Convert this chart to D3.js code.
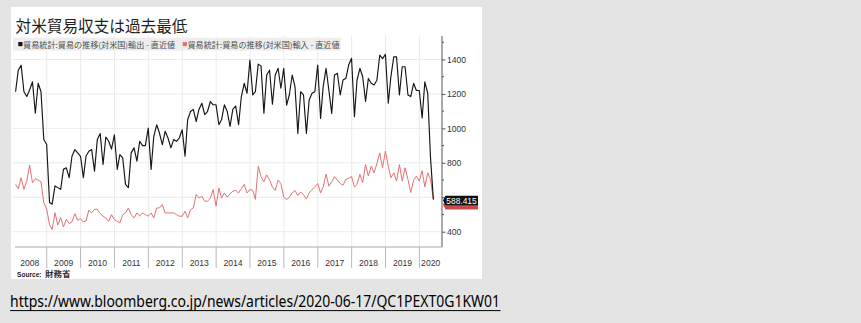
<!DOCTYPE html>
<html><head><meta charset="utf-8">
<script src="https://cdn.jsdelivr.net/npm/d3@7"></script>
<style>
html,body{margin:0;padding:0;background:#e4e4e4;}
svg{display:block;}
</style></head><body>
<svg id="c" width="861" height="323"></svg>
<script>
const titleText = "対米貿易収支は過去最低";
const seriesNames = ["貿易統計:貿易の推移(対米国)輸出 - 直近値", "貿易統計:貿易の推移(対米国)輸入 - 直近値"];
const seriesColors = ["#151515", "#e27272"];
const startYear = 2008;
// monthly values, Jan 2008 .. May 2020
const exportsValues = [
  1213, 1338, 1367, 1213, 1185, 1223, 1271, 1088, 1262, 1213, 935, 906,
  570, 560, 666, 656, 646, 762, 771, 714, 838, 877, 858, 838,
  714, 838, 867, 877, 752, 935, 970, 790, 950, 925, 880, 963,
  762, 848, 829, 675, 656, 858, 887, 810, 925, 900, 900, 1002,
  762, 954, 1021, 973, 906, 983, 944, 887, 935, 925, 944, 992,
  838, 1050, 1098, 1110, 1040, 1110, 1146, 1080, 1098, 1156, 1137, 1137,
  1021, 1050, 1137, 1100, 1012, 1110, 1130, 1021, 1185, 1262, 1204, 1396,
  1194, 1213, 1373, 1363, 1088, 1310, 1338, 1140, 1310, 1349, 1233, 1349,
  1135, 1194, 1310, 1243, 971, 1213, 1194, 971, 1165, 1204, 1213, 1368,
  1058, 1243, 1349, 1223, 1087, 1310, 1320, 1194, 1281, 1291, 1368, 1407,
  1068, 1281, 1349, 1300, 1156, 1290, 1262, 1252, 1280, 1425, 1405, 1430,
  1146, 1300, 1415, 1415, 1194, 1358, 1358, 1194, 1185, 1262, 1220, 1220,
  1060, 1270, 1204, 830, 588.415
];
const importsValues = [
  675, 650, 713, 646, 694, 787, 685, 708, 700, 690, 569, 531,
  440, 413, 510, 438, 482, 428, 472, 448, 458, 505, 466, 476,
  457, 462, 525, 510, 530, 530, 505, 490, 480, 460, 499, 470,
  460, 451, 499, 509, 538, 499, 480, 509, 490, 509, 499, 490,
  509, 480, 538, 538, 557, 509, 509, 509, 509, 499, 490, 490,
  519, 480, 528, 538, 616, 596, 606, 577, 577, 596, 645, 548,
  654, 595, 625, 600, 620, 635, 640, 625, 650, 675, 625, 645,
  640, 588, 780, 720, 690, 730, 700, 660, 640, 700, 680, 600,
  587, 600, 625, 640, 610, 630, 615, 590, 625, 645, 660, 680,
  625, 660, 735, 665, 690, 720, 700, 680, 670, 705, 710, 720,
  660, 675, 733, 685, 790, 723, 781, 742, 795, 858, 771, 868,
  781, 713, 742, 694, 790, 694, 771, 704, 627, 700, 723, 694,
  754, 660, 742, 704, 583
];
const yearLabels = ["2008","2009","2010","2011","2012","2013","2014","2015","2016","2017","2018","2019","2020"];
const yTicks = [400, 600, 800, 1000, 1200, 1400];
const yTickLabels = ["400", "", "800", "1000", "1200", "1400"]; // 600 is hidden behind the last-value tag
const yMinorTicks = [500, 700, 900, 1100, 1300, 1500];
const lastLabel = "588.415";
const sourceLabel = "Source:";
const sourceName = "財務省";
const urlText = "https://www.bloomberg.co.jp/news/articles/2020-06-17/QC1PEXT0G1KW01";

const svg = d3.select("#c");
const plot = {left: 12.8, right: 442, top: 36, bottom: 247};

const x = d3.scaleTime()
  .domain([new Date(2008, 0, 1), new Date(2020, 8, 1)])
  .range([plot.left, plot.right]);
const y = d3.scaleLinear().domain([311.2, 1536.5]).range([plot.bottom, plot.top]);

// month-end dates
const monthDate = i => new Date(startYear, i + 1, 0);

// panel
svg.append("rect").attr("x", 11).attr("y", 7).attr("width", 471).attr("height", 272).attr("fill", "#ffffff");

// grid
const years = d3.range(2009, 2021).map(yr => new Date(yr, 0, 1));
svg.append("g").selectAll("line").data(yTicks).join("line")
  .attr("x1", plot.left).attr("x2", plot.right)
  .attr("y1", d => y(d)).attr("y2", d => y(d))
  .attr("stroke", "#ebebeb").attr("stroke-width", 1);
svg.append("g").selectAll("line").data(years).join("line")
  .attr("x1", d => x(d)).attr("x2", d => x(d))
  .attr("y1", plot.top).attr("y2", plot.bottom)
  .attr("stroke", "#ebebeb").attr("stroke-width", 1);

// title
svg.append("text").attr("x", 15.5).attr("y", 32)
  .attr("font-family", "'Noto Sans CJK JP'").attr("font-size", 16).attr("fill", "#1e1e1e")
  .attr("textLength", 172).attr("lengthAdjust", "spacingAndGlyphs")
  .text(titleText);

// legend
svg.append("rect").attr("x", 13).attr("y", 37.7).attr("width", 328).attr("height", 13).attr("fill", "#eeeeee");
const legX = [18.3, 182.7];
seriesNames.forEach((n, i) => {
  svg.append("rect").attr("x", legX[i]).attr("y", 42).attr("width", 4.2).attr("height", 4.2).attr("fill", seriesColors[i]);
  svg.append("text").attr("x", legX[i] + 4.8).attr("y", 47.6)
    .attr("font-family", "'Noto Sans CJK JP'").attr("font-size", 7.6).attr("fill", "#4a4a4a")
    .attr("textLength", 152).attr("lengthAdjust", "spacingAndGlyphs")
    .text(n);
});

// x axis baseline + year dividers
svg.append("line").attr("x1", 15).attr("x2", plot.right).attr("y1", plot.bottom).attr("y2", plot.bottom)
  .attr("stroke", "#a8a8a8").attr("stroke-width", 1);
svg.append("g").selectAll("line").data(years).join("line")
  .attr("x1", d => x(d)).attr("x2", d => x(d))
  .attr("y1", plot.bottom).attr("y2", plot.bottom + 21)
  .attr("stroke", "#b8b8b8").attr("stroke-width", 1);
svg.append("g").selectAll("text").data(yearLabels).join("text")
  .attr("x", d => {
    const a = x(new Date(+d, 0, 1));
    const b = Math.min(x(new Date(+d + 1, 0, 1)), plot.right);
    return (a + b) / 2;
  })
  .attr("y", 266)
  .attr("text-anchor", "middle")
  .attr("font-family", "'Liberation Sans', Arial, sans-serif").attr("font-size", 8.6).attr("fill", "#333")
  .text(d => d);

// right y axis
const yAxis = d3.axisRight(y).tickValues(yTicks).tickSize(3.5).tickPadding(1.5)
  .tickFormat((d, i) => yTickLabels[i]);
const ga = svg.append("g").attr("transform", `translate(${plot.right},0)`).call(yAxis);
ga.select(".domain").attr("d", `M0,${plot.top}V${plot.bottom}`).attr("stroke", "#555");
ga.selectAll(".tick line").attr("stroke", "#555");
ga.selectAll(".tick text").attr("font-family", "'Liberation Sans', Arial, sans-serif").attr("font-size", 8.6).attr("fill", "#333");
svg.append("g").selectAll("line").data(yMinorTicks).join("line")
  .attr("x1", plot.right).attr("x2", plot.right + 2)
  .attr("y1", d => y(d)).attr("y2", d => y(d))
  .attr("stroke", "#555");

// lines
const line = d3.line().x((d, i) => x(monthDate(i))).y(d => y(d));
svg.append("path").datum(importsValues).attr("d", line)
  .attr("fill", "none").attr("stroke", seriesColors[1]).attr("stroke-width", 1).attr("stroke-linejoin", "round");
svg.append("path").datum(exportsValues).attr("d", line)
  .attr("fill", "none").attr("stroke", seriesColors[0]).attr("stroke-width", 1.15).attr("stroke-linejoin", "round");

// last value tags
function valueTag(v, color, dy) {
  const cy = y(v) + dy;
  const g = svg.append("g");
  g.append("path")
    .attr("d", `M${plot.right + 1},${cy} L${plot.right + 3.5},${cy - 4.8} H${plot.right + 36} V${cy + 4.8} H${plot.right + 3.5} Z`)
    .attr("fill", color);
  return {g, cy};
}
const lastImp = importsValues[importsValues.length - 1];
valueTag(lastImp, "#c84a4a", 4.5);
const lastExp = exportsValues[exportsValues.length - 1];
const tag = valueTag(lastExp, "#111", 1.3);
tag.g.append("text").attr("x", plot.right + 19.5).attr("y", tag.cy + 3)
  .attr("text-anchor", "middle").attr("fill", "#fff")
  .attr("font-family", "'Liberation Sans', Arial, sans-serif").attr("font-size", 8.4)
  .text(lastLabel);

// source
svg.append("text").attr("x", 17).attr("y", 276.5)
  .attr("font-family", "'Liberation Sans', Arial, sans-serif").attr("font-weight", "bold")
  .attr("font-size", 7).attr("fill", "#222")
  .attr("textLength", 24.5).attr("lengthAdjust", "spacingAndGlyphs")
  .text(sourceLabel);
svg.append("text").attr("x", 45).attr("y", 277)
  .attr("font-family", "'Noto Sans CJK JP'").attr("font-weight", "bold")
  .attr("font-size", 8.5).attr("fill", "#333")
  .text(sourceName);

// url
svg.append("text").attr("x", 10).attr("y", 307.3)
  .attr("font-family", "'Noto Sans', sans-serif").attr("font-size", 15.5).attr("fill", "#000")
  .attr("textLength", 490).attr("lengthAdjust", "spacingAndGlyphs")
  .text(urlText);
svg.append("line").attr("x1", 10).attr("x2", 500.5).attr("y1", 310.6).attr("y2", 310.6)
  .attr("stroke", "#000").attr("stroke-width", 1);
</script>
</body></html>
